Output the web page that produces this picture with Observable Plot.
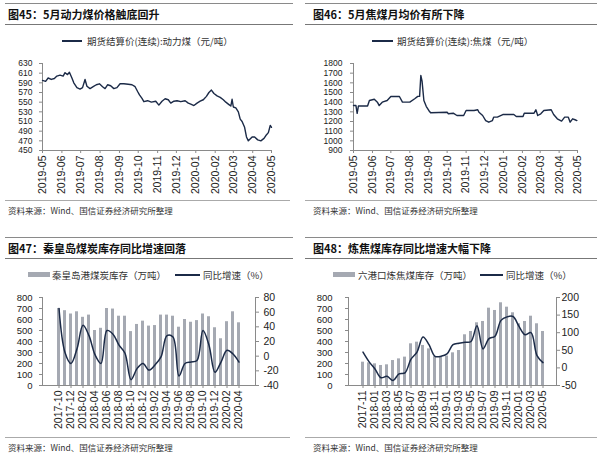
<!DOCTYPE html>
<html><head><meta charset="utf-8">
<script src="https://cdn.jsdelivr.net/npm/d3@7"></script>
<script src="https://cdn.jsdelivr.net/npm/@observablehq/plot@0.6"></script>
<style>
body{margin:0;background:#fff;}
#root{position:relative;width:600px;height:454px;overflow:hidden;font-family:"Noto Sans CJK SC",sans-serif;background:#fff;}
.rule{position:absolute;height:0;border-top:1px solid #8a8a8a;}
.title{position:absolute;font-size:11px;font-weight:bold;color:#111;white-space:nowrap;line-height:14px;}
.src{position:absolute;font-size:8.5px;color:#333;white-space:nowrap;line-height:10px;}
.leg{position:absolute;font-size:9.5px;color:#333;white-space:nowrap;line-height:12px;}
.swl{position:absolute;height:0;border-top:2px solid #1b2a47;}
.swb{position:absolute;height:5px;background:#a5a9b2;}
.plot{position:absolute;}
</style></head>
<body><div id="root"></div>
<script>
// ---------- Figure 45: thermal coal futures settlement price ----------
const p45Dates = ["2019-05-01","2019-05-06","2019-05-10","2019-05-15","2019-05-20","2019-05-24","2019-05-29","2019-06-03","2019-06-06","2019-06-10","2019-06-13","2019-06-17","2019-06-20","2019-06-25","2019-06-30","2019-07-04","2019-07-08","2019-07-11","2019-07-16","2019-07-21","2019-07-26","2019-07-31","2019-08-05","2019-08-09","2019-08-13","2019-08-18","2019-08-23","2019-08-28","2019-09-02","2019-09-08","2019-09-15","2019-09-21","2019-09-26","2019-09-30","2019-10-03","2019-10-07","2019-10-10","2019-10-16","2019-10-22","2019-10-29","2019-11-03","2019-11-08","2019-11-13","2019-11-18","2019-11-22","2019-11-27","2019-12-02","2019-12-08","2019-12-15","2019-12-20","2019-12-24","2019-12-29","2020-01-03","2020-01-08","2020-01-13","2020-01-18","2020-01-22","2020-01-26","2020-01-30","2020-02-04","2020-02-09","2020-02-14","2020-02-18","2020-02-23","2020-02-26","2020-02-28","2020-03-01","2020-03-05","2020-03-09","2020-03-12","2020-03-15","2020-03-19","2020-03-22","2020-03-25","2020-03-31","2020-04-04","2020-04-09","2020-04-14","2020-04-19","2020-04-22","2020-04-26","2020-04-29","2020-05-01"];
const p45Values = [595,593,600,597,599,604,606,604,611,607,612,600,590,580,577,580,597,583,578,582,586,588,582,578,586,584,578,580,588,588,587,586,582,572,565,558,551,553,550,552,544,552,557,555,548,552,553,551,553,548,546,543,548,552,555,562,570,575,568,563,560,555,550,545,542,556,540,538,530,515,510,498,478,470,478,478,472,470,475,481,487,502,498];
const p45YTicks = [450,470,490,510,530,550,570,590,610,630];
const monthTicks = ["2019-05","2019-06","2019-07","2019-08","2019-09","2019-10","2019-11","2019-12","2020-01","2020-02","2020-03","2020-04","2020-05"];

// ---------- Figure 46: coking coal futures settlement price ----------
const p46Dates = ["2019-05-01","2019-05-05","2019-05-07","2019-05-09","2019-05-24","2019-05-27","2019-06-04","2019-06-09","2019-06-12","2019-06-17","2019-06-25","2019-07-01","2019-07-15","2019-07-20","2019-08-01","2019-08-09","2019-08-14","2019-08-17","2019-08-19","2019-08-21","2019-08-24","2019-08-28","2019-09-01","2019-09-04","2019-10-01","2019-10-03","2019-10-11","2019-10-17","2019-10-28","2019-11-01","2019-11-14","2019-11-20","2019-11-22","2019-11-28","2019-12-03","2019-12-08","2019-12-14","2019-12-16","2019-12-22","2019-12-31","2020-01-18","2020-01-22","2020-02-02","2020-02-04","2020-02-20","2020-02-23","2020-02-26","2020-03-02","2020-03-07","2020-03-19","2020-03-23","2020-03-29","2020-04-05","2020-04-10","2020-04-16","2020-04-19","2020-04-23","2020-04-27","2020-04-30"];
const p46Values = [1365,1365,1285,1360,1360,1417,1430,1400,1365,1400,1417,1459,1459,1400,1400,1435,1460,1460,1676,1617,1417,1355,1314,1290,1296,1280,1286,1262,1262,1314,1314,1321,1296,1262,1210,1193,1210,1245,1245,1272,1272,1252,1252,1286,1286,1321,1262,1280,1314,1321,1272,1228,1204,1245,1245,1193,1228,1218,1210];
const p46YTicks = [900,1000,1100,1200,1300,1400,1500,1600,1700,1800];

// ---------- Figure 47: Qinhuangdao coal inventory ----------
const p47Months = ["2017-10","2017-11","2017-12","2018-01","2018-02","2018-03","2018-04","2018-05","2018-06","2018-07","2018-08","2018-09","2018-10","2018-11","2018-12","2019-01","2019-02","2019-03","2019-04","2019-05","2019-06","2019-07","2019-08","2019-09","2019-10","2019-11","2019-12","2020-01","2020-02","2020-03","2020-04"];
const p47Stock = [700,680,650,670,620,640,500,520,700,695,630,630,490,555,585,540,545,640,640,630,530,600,575,590,650,625,525,425,580,670,570];
const p47Yoy = [65,5,-10,10,42,28,2,-10,35,30,15,4,-32,-17,-10,-19,-12,-1,28,26,-27,-10,-8,-6,35,15,-22,-8,8,3,-8];
const p47Labels = ["2017-10","2017-12","2018-02","2018-04","2018-06","2018-08","2018-10","2018-12","2019-02","2019-04","2019-06","2019-08","2019-10","2019-12","2020-02","2020-04"];
const p47RightTicks = [-40,-20,0,20,40,60,80];

// ---------- Figure 48: six-port coking coal inventory ----------
const p48Months = ["2017-11","2017-12","2018-01","2018-02","2018-03","2018-04","2018-05","2018-06","2018-07","2018-08","2018-09","2018-10","2018-11","2018-12","2019-01","2019-02","2019-03","2019-04","2019-05","2019-06","2019-07","2019-08","2019-09","2019-10","2019-11","2019-12","2020-01","2020-02","2020-03","2020-04","2020-05"];
const p48Stock = [212,206,197,182,188,227,242,258,379,394,364,333,262,258,268,297,318,461,491,570,582,703,682,752,712,661,561,582,630,561,491];
const p48Yoy = [45,18,-3,-28,-24,-36,-17,-14,25,45,88,66,33,33,40,66,70,73,75,120,54,83,90,135,145,146,118,94,100,35,15];
const p48Labels = ["2017-11","2018-01","2018-03","2018-05","2018-07","2018-09","2018-11","2019-01","2019-03","2019-05","2019-07","2019-09","2019-11","2020-01","2020-03","2020-05"];
const p48RightTicks = [-50,0,50,100,150,200];
const leftStockTicks = [0,100,200,300,400,500,600,700,800];

const LINE = "#1b2a47", BAR = "#a5a9b2", AXIS = "#8a8a8a";
const root = document.getElementById("root");
const svgStyle = {fontSize:"10.5px", fontFamily:"'Liberation Sans', Arial, sans-serif", color:"#222", background:"transparent", overflow:"visible"};
const plain = d => String(d);

function add(cls, css, text){
  const d = document.createElement("div");
  d.className = cls; Object.assign(d.style, css);
  if (text) d.textContent = text;
  root.appendChild(d); return d;
}
function header(x0, x1, textX, title, top){
  add("rule", {left:x0+"px", width:(x1-x0)+"px", top:top+"px"});
  add("title", {left:textX+"px", top:(top+4)+"px"}, title);
  add("rule", {left:x0+"px", width:(x1-x0)+"px", top:(top+21)+"px", borderTopColor:"#777"});
}
function footer(x0, x1, textX, top){
  add("rule", {left:x0+"px", width:(x1-x0)+"px", top:top+"px", borderTopColor:"#aaa"});
  add("src", {left:textX+"px", top:(top+5)+"px"}, "资料来源：Wind、国信证券经济研究所整理");
}
function place(svg, left, top){
  const w = document.createElement("div");
  w.className = "plot"; w.style.left = left+"px"; w.style.top = top+"px";
  w.appendChild(svg); root.appendChild(w);
}

function timePlot({dates, values, yTicks, width, mL, mR, pad}){
  const rows = dates.map((d,i) => ({date: new Date(d), v: values[i]}));
  return Plot.plot({
    width, height:143, marginLeft:mL, marginRight:mR, marginTop:11, marginBottom:45,
    style: svgStyle,
    x: {type:"utc", domain:[new Date(monthTicks[0]), new Date(monthTicks[monthTicks.length-1])]},
    y: {domain:[yTicks[0], yTicks[yTicks.length-1]]},
    marks: [
      Plot.frame({anchor:"left", stroke:AXIS}),
      Plot.frame({anchor:"bottom", stroke:AXIS}),
      Plot.axisY(yTicks, {tickSize:3, tickPadding:pad, stroke:AXIS, label:null, tickFormat:plain, fontSize:8.5}),
      Plot.axisX(monthTicks.map(m => new Date(m)), {tickFormat:d3.utcFormat("%Y-%m"), tickRotate:-90, tickSize:3, tickPadding:2, stroke:AXIS, label:null}),
      Plot.line(rows, {x:"date", y:"v", stroke:LINE, strokeWidth:1.4})
    ]
  });
}

function barPlot({months, stock, yoy, labels, rTicks, width, mL, mR, lPad, rPad}){
  const rMin = rTicks[0], rMax = rTicks[rTicks.length-1];
  const toLeft = r => (r - rMin) * 800 / (rMax - rMin);
  const fromLeft = v => v * (rMax - rMin) / 800 + rMin;
  const rows = months.map((m,i) => ({m, s:stock[i], r:toLeft(yoy[i])}));
  return Plot.plot({
    width, height:143, marginLeft:mL, marginRight:mR, marginTop:10, marginBottom:45,
    style: svgStyle,
    x: {type:"band", domain:months, paddingInner:0.5, paddingOuter:0.2},
    y: {domain:[0,800]},
    marks: [
      Plot.barY(rows, {x:"m", y:"s", fill:BAR}),
      Plot.frame({anchor:"left", stroke:AXIS}),
      Plot.frame({anchor:"right", stroke:AXIS}),
      Plot.frame({anchor:"bottom", stroke:AXIS}),
      Plot.axisY(leftStockTicks, {anchor:"left", tickSize:3, tickPadding:lPad, stroke:AXIS, label:null, tickFormat:plain, fontSize:9.5}),
      Plot.axisY(rTicks.map(toLeft), {anchor:"right", tickSize:3, tickPadding:rPad, stroke:AXIS, label:null, fontSize:10.5, tickFormat: v => String(Math.round(fromLeft(v)))}),
      Plot.axisX(labels, {tickRotate:-90, tickSize:3, tickPadding:2, stroke:AXIS, label:null}),
      Plot.line(rows, {x:"m", y:"r", curve:"catmull-rom", stroke:LINE, strokeWidth:1.5})
    ]
  });
}

// Panel 45
header(5, 293, 8, "图45：5月动力煤价格触底回升", 3);
add("swl", {left:"62px", width:"20px", top:"40px"});
add("leg", {left:"87px", top:"35px"}, "期货结算价(连续):动力煤（元/吨）");
place(timePlot({dates:p45Dates, values:p45Values, yTicks:p45YTicks, width:295, mL:42, mR:24, pad:7}), 0, 52);
footer(5, 290, 8, 200);

// Panel 46
header(305, 597, 313, "图46：5月焦煤月均价有所下降", 3);
add("swl", {left:"372px", width:"21px", top:"40px"});
add("leg", {left:"397px", top:"35px"}, "期货结算价(连续):焦煤（元/吨）");
place(timePlot({dates:p46Dates, values:p46Values, yTicks:p46YTicks, width:300, mL:53, mR:23, pad:8}), 300, 52);
footer(305, 597, 313, 200);

// Panel 47
header(5, 293, 8, "图47：秦皇岛煤炭库存同比增速回落", 237);
add("swb", {left:"28px", width:"22px", top:"272px"});
add("leg", {left:"52px", top:"269px"}, "秦皇岛港煤炭库存（万吨）");
add("swl", {left:"175px", width:"25px", top:"274px"});
add("leg", {left:"203px", top:"269px"}, "同比增速（%）");
place(barPlot({months:p47Months, stock:p47Stock, yoy:p47Yoy, labels:p47Labels, rTicks:p47RightTicks, width:295, mL:42, mR:40, lPad:7, rPad:5}), 0, 287);
footer(5, 290, 8, 437);

// Panel 48
header(305, 597, 313, "图48：炼焦煤库存同比增速大幅下降", 237);
add("swb", {left:"333px", width:"22px", top:"272px"});
add("leg", {left:"358px", top:"269px"}, "六港口炼焦煤库存（万吨）");
add("swl", {left:"480px", width:"23px", top:"274px"});
add("leg", {left:"506px", top:"269px"}, "同比增速（%）");
place(barPlot({months:p48Months, stock:p48Stock, yoy:p48Yoy, labels:p48Labels, rTicks:p48RightTicks, width:300, mL:48, mR:44, lPad:13, rPad:2}), 300, 287);
footer(305, 597, 313, 437);
</script></body></html>
